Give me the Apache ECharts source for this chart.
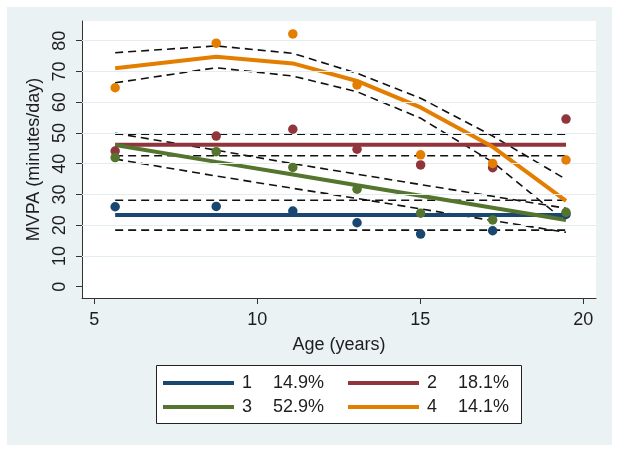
<!DOCTYPE html>
<html><head><meta charset="utf-8">
<script src="https://cdn.jsdelivr.net/npm/echarts@6/dist/echarts.min.js"></script>
<style>html,body{margin:0;padding:0;background:#fff}#c{width:619px;height:452px}</style>
</head><body><div id="c"></div>
<script>
// ---- data ----
const ages = [5.64, 8.74, 11.09, 13.06, 15.01, 17.22, 19.47];

const groupNames = ['1', '2', '3', '4'];
const groupShares = ['14.9%', '18.1%', '52.9%', '14.1%'];

const obs1 = [26.0, 26.1, 24.6, 20.8, 17.1, 18.2, 23.5];
const fit1 = [23.3, 23.3, 23.3, 23.3, 23.3, 23.3, 23.3];
const hi1  = [28.1, 28.1, 28.1, 28.1, 28.1, 28.1, 28.1];
const lo1  = [18.4, 18.4, 18.4, 18.4, 18.4, 18.4, 18.4];

const obs2 = [44.1, 49.0, 51.2, 44.7, 39.6, 38.7, 54.5];
const fit2 = [46.2, 46.2, 46.2, 46.2, 46.2, 46.2, 46.2];
const hi2  = [49.6, 49.6, 49.6, 49.6, 49.6, 49.6, 49.6];
const lo2  = [42.6, 42.6, 42.6, 42.6, 42.6, 42.6, 42.6];

const obs3 = [42.0, 43.9, 38.8, 31.7, 23.9, 21.7, 24.2];
const fit3 = [46.1, 40.6, 36.5, 33.0, 29.6, 25.7, 21.7];
const hi3  = [49.9, 44.4, 40.0, 36.6, 33.2, 29.4, 25.5];
const lo3  = [41.5, 36.0, 32.0, 28.7, 25.3, 21.5, 17.7];

const obs4 = [64.7, 79.2, 82.2, 65.6, 42.9, 40.1, 41.2];
const fit4 = [71.0, 74.8, 72.6, 66.9, 58.3, 45.5, 27.9];
const hi4  = [76.1, 78.3, 75.9, 69.4, 61.3, 49.0, 34.9];
const lo4  = [66.3, 71.2, 68.5, 63.4, 54.8, 40.5, 21.1];

const xTicks = [5, 10, 15, 20];
const yTicks = [0, 10, 20, 30, 40, 50, 60, 70, 80];
const yGrid  = [10, 20, 30, 40, 50, 60, 70, 80];

// ---- build ----
const FONT = '"Liberation Sans", Arial, sans-serif';
const TXT = '#1e1e1e';
const colors = ['#1a476f', '#90353b', '#55752f', '#e37e00'];
const groups = [
  {obs: obs1, fit: fit1, hi: hi1, lo: lo1},
  {obs: obs2, fit: fit2, hi: hi2, lo: lo2},
  {obs: obs3, fit: fit3, hi: hi3, lo: lo3},
  {obs: obs4, fit: fit4, hi: hi4, lo: lo4}
];
const pair = arr => ages.map((a, i) => [a, arr[i]]);
const shareOf = {};
groupNames.forEach((n, i) => shareOf[n] = groupShares[i]);

const series = [];
series.push({
  type: 'line', name: 'grid', data: [], silent: true, z: 1,
  markLine: {
    silent: true, symbol: 'none', label: {show: false}, animation: false,
    lineStyle: {color: '#e3ecee', type: 'solid', width: 1},
    data: yGrid.map(v => ({yAxis: v}))
  }
});
groups.forEach((g, i) => {
  ['hi', 'lo'].forEach(k => {
    series.push({
      type: 'line', name: 'ci' + i + k, data: pair(g[k]), symbol: 'none', showSymbol: false,
      silent: true, z: 3,
      lineStyle: {color: '#111', width: 1.6, type: [8, 5]}
    });
  });
});
groups.forEach((g, i) => {
  series.push({
    type: 'line', name: groupNames[i], data: pair(g.fit), symbol: 'none', showSymbol: false,
    color: colors[i], silent: true, z: 4,
    lineStyle: {color: colors[i], width: 4}
  });
});
groups.forEach((g, i) => {
  series.push({
    type: 'scatter', name: 'obs' + i, data: pair(g.obs), symbolSize: 9.5,
    itemStyle: {color: colors[i], opacity: 1}, z: 5, silent: true
  });
});

// one legend per entry, laid out as 2 columns x 2 rows
const legendCols = [163, 348];
const legendRows = [374, 398];
const legends = groupNames.map((n, i) => ({
  data: [n], left: legendCols[i % 2], top: legendRows[Math.floor(i / 2)],
  itemWidth: 71, itemHeight: 4, icon: 'rect', selectedMode: false, padding: 0,
  formatter: name => '{a|' + name + '}{b|' + shareOf[name] + '}',
  textStyle: {
    fontFamily: FONT, fontSize: 18, color: TXT,
    rich: {
      a: {width: 31, fontSize: 18, fontFamily: FONT, color: TXT, padding: [0, 0, 0, 3]},
      b: {fontSize: 18, fontFamily: FONT, color: TXT}
    }
  }
}));

const option = {
  animation: false,
  backgroundColor: '#ffffff',
  graphic: {elements: [
    {type: 'rect', z: -100, shape: {x: 7, y: 7, width: 605, height: 438}, style: {fill: '#eaf2f3'}},
    {type: 'rect', z: -90, shape: {x: 156.5, y: 365.5, width: 365, height: 58}, style: {fill: '#fff', stroke: '#222', lineWidth: 1}}
  ]},
  grid: {left: 82, top: 21, right: 23, bottom: 154, show: true, backgroundColor: '#fff', borderWidth: 0},
  legend: legends,
  xAxis: {
    type: 'value', min: 4.623, max: 20.39,
    axisLine: {show: true, onZero: false, lineStyle: {color: '#333', width: 1}},
    axisTick: {show: true, length: 6, customValues: xTicks, lineStyle: {color: '#333'}},
    axisLabel: {customValues: xTicks, fontSize: 18, fontFamily: FONT, color: TXT, margin: 13},
    splitLine: {show: false},
    name: 'Age (years)', nameLocation: 'middle', nameGap: 38,
    nameTextStyle: {fontSize: 18, fontFamily: FONT, color: TXT}
  },
  yAxis: {
    type: 'value', min: -3.67, max: 86.4,
    axisLine: {show: true, onZero: false, lineStyle: {color: '#333', width: 1}},
    axisTick: {show: true, length: 6, customValues: yTicks, lineStyle: {color: '#333'}},
    axisLabel: {customValues: yTicks, rotate: 90, fontSize: 18, fontFamily: FONT, color: TXT, margin: 13},
    splitLine: {show: false},
    name: 'MVPA (minutes/day)', nameLocation: 'middle', nameGap: 36,
    nameTextStyle: {fontSize: 18, fontFamily: FONT, color: TXT}
  },
  series: series
};
const chart = echarts.init(document.getElementById('c'));
chart.setOption(option);
</script>
</body></html>
